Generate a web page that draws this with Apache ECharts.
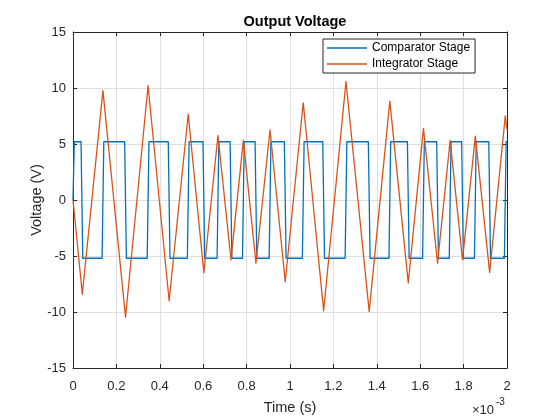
<!DOCTYPE html>
<html>
<head>
<meta charset="utf-8">
<script src="https://cdn.jsdelivr.net/npm/echarts@6/dist/echarts.min.js"></script>
<style>
  html, body { margin: 0; padding: 0; background: #fff; }
  #chart { width: 560px; height: 420px; }
</style>
</head>
<body>
<div id="chart"></div>
<script>
// time in ms (axis shows x10^-3 s), voltage in V
const seriesNames = ['Comparator Stage', 'Integrator Stage']
const yTicks = [-15, -10, -5, 0, 5, 10, 15]
const xRange = [0, 2]

// comparator: +/-5.2 V square wave, edges
const comparator = [
  [0, 0], [0.006, 5.2],
  [0.037, 5.2], [0.045, -5.2],
  [0.134, -5.2], [0.142, 5.2],
  [0.238, 5.2], [0.246, -5.2],
  [0.342, -5.2], [0.350, 5.2],
  [0.439, 5.2], [0.447, -5.2],
  [0.527, -5.2], [0.535, 5.2],
  [0.599, 5.2], [0.607, -5.2],
  [0.664, -5.2], [0.672, 5.2],
  [0.724, 5.2], [0.732, -5.2],
  [0.781, -5.2], [0.789, 5.2],
  [0.839, 5.2], [0.847, -5.2],
  [0.904, -5.2], [0.912, 5.2],
  [0.974, 5.2], [0.982, -5.2],
  [1.057, -5.2], [1.065, 5.2],
  [1.151, 5.2], [1.159, -5.2],
  [1.254, -5.2], [1.262, 5.2],
  [1.361, 5.2], [1.369, -5.2],
  [1.456, -5.2], [1.464, 5.2],
  [1.541, 5.2], [1.549, -5.2],
  [1.611, -5.2], [1.619, 5.2],
  [1.676, 5.2], [1.684, -5.2],
  [1.734, -5.2], [1.742, 5.2],
  [1.791, 5.2], [1.799, -5.2],
  [1.850, -5.2], [1.858, 5.2],
  [1.916, 5.2], [1.924, -5.2],
  [1.988, -5.2], [1.996, 5.2],
  [2.0, 5.2]
]

// integrator: peaks and troughs of the triangle wave
const integrator = [
  [0, 0], [0.043, -8.42], [0.138, 9.76], [0.242, -10.47], [0.346, 10.2],
  [0.443, -9.0], [0.531, 7.66], [0.603, -6.5], [0.668, 5.76], [0.728, -5.35],
  [0.785, 5.32], [0.843, -5.64], [0.908, 6.25], [0.978, -7.3], [1.061, 8.68],
  [1.155, -9.89], [1.258, 10.58], [1.365, -9.97], [1.460, 8.83], [1.545, -7.4],
  [1.615, 6.4], [1.680, -5.65], [1.738, 5.32], [1.795, -5.35], [1.854, 5.7],
  [1.920, -6.46], [1.992, 7.5], [2.0, 6.3]
]

const FONT = '"Liberation Sans", Arial, Helvetica, sans-serif'
const INK = '#262626'
const GRIDC = '#dfdfdf'

const chart = echarts.init(document.getElementById('chart'), null, { renderer: 'canvas' })

const baseX = {
  type: 'value', min: xRange[0], max: xRange[1], interval: 0.2,
  axisLine: { show: true, onZero: false, lineStyle: { color: INK, width: 1 } },
  axisTick: { show: true, inside: true, length: 4, lineStyle: { color: INK } }
}
const baseY = {
  type: 'value', min: yTicks[0], max: yTicks[yTicks.length - 1], interval: 5,
  axisLine: { show: true, onZero: false, lineStyle: { color: INK, width: 1 } },
  axisTick: { show: true, inside: true, length: 4, lineStyle: { color: INK } }
}

chart.setOption({
  animation: false,
  backgroundColor: '#fff',
  textStyle: { fontFamily: FONT },
  title: {
    text: 'Output Voltage',
    left: 290, top: 9, textAlign: 'center',
    textStyle: { fontFamily: FONT, fontSize: 14.5, fontWeight: 'bold', color: '#000' }
  },
  grid: { left: 73, top: 32, right: 53, bottom: 47, containLabel: false },
  legend: {
    data: seriesNames,
    orient: 'vertical',
    left: 323, top: 39,
    icon: 'rect', itemWidth: 40, itemHeight: 1.5, itemGap: 4,
    padding: [3, 5, 3, 4],
    borderColor: INK, borderWidth: 1, backgroundColor: '#fff',
    textStyle: { fontFamily: FONT, fontSize: 12, color: '#000' }
  },
  xAxis: [
    Object.assign({}, baseX, {
      position: 'bottom',
      name: 'Time (s)', nameLocation: 'middle', nameGap: 32, nameMoveOverlap: false,
      nameTextStyle: { fontFamily: FONT, fontSize: 14.5, color: INK },
      axisLabel: {
        margin: 12, fontSize: 13, color: INK, fontFamily: FONT,
        formatter: v => String(Math.round(v * 10) / 10)
      },
      splitLine: { show: true, lineStyle: { color: GRIDC, width: 1 } }
    }),
    Object.assign({}, baseX, {
      position: 'top', axisLabel: { show: false }, splitLine: { show: false }
    })
  ],
  yAxis: [
    Object.assign({}, baseY, {
      position: 'left',
      name: 'Voltage (V)', nameLocation: 'middle', nameGap: 29, nameMoveOverlap: false,
      nameTextStyle: { fontFamily: FONT, fontSize: 14.5, color: INK },
      axisLabel: { margin: 7, fontSize: 13, color: INK, fontFamily: FONT },
      splitLine: { show: true, lineStyle: { color: GRIDC, width: 1 } }
    }),
    Object.assign({}, baseY, {
      position: 'right', axisLabel: { show: false }, splitLine: { show: false }
    })
  ],
  series: [
    {
      name: seriesNames[0], type: 'line', data: comparator,
      showSymbol: false, symbol: 'none',
      lineStyle: { color: '#0072BD', width: 1.3, join: 'round' },
      itemStyle: { color: '#0072BD' }
    },
    {
      name: seriesNames[1], type: 'line', data: integrator,
      showSymbol: false, symbol: 'none',
      lineStyle: { color: '#D95319', width: 1.3, join: 'round' },
      itemStyle: { color: '#D95319' }
    }
  ],
  graphic: [
    { type: 'text', left: 472, top: 404, style: { text: '×10', font: '13px ' + FONT, fill: INK } },
    { type: 'text', left: 496, top: 397, style: { text: '-3', font: '10px ' + FONT, fill: INK } }
  ]
})
</script>
</body>
</html>
